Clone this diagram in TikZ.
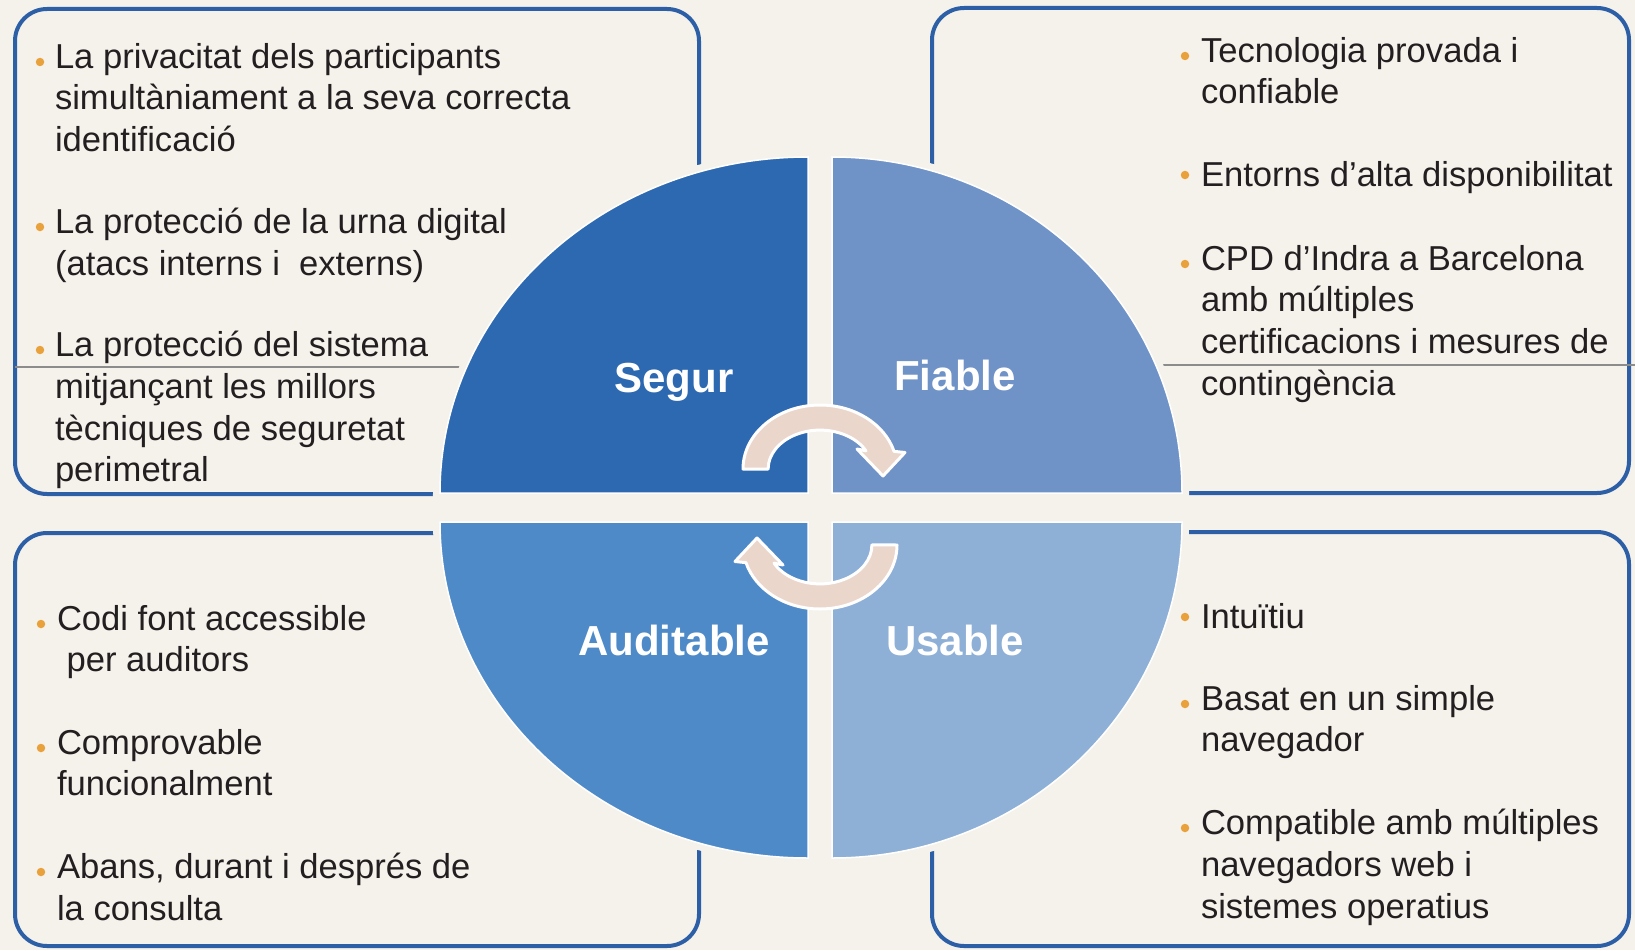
\documentclass[tikz,border=0pt]{standalone}
\usepackage{fontspec}
\setmainfont{Liberation Sans}
\definecolor{bg}{HTML}{F5F2EC}
\definecolor{boxc}{HTML}{2D5FA6}
\definecolor{qsegur}{HTML}{2D69B1}
\definecolor{qfiable}{HTML}{6F92C7}
\definecolor{qaudit}{HTML}{4F8AC8}
\definecolor{qusable}{HTML}{8EAFD6}
\definecolor{txt}{HTML}{231F20}
\definecolor{bulc}{HTML}{E9A23B}
\definecolor{arrc}{HTML}{EBD6CC}
\definecolor{sepc}{HTML}{8C8C8C}
\begin{document}
\begin{tikzpicture}[x=1pt,y=1pt,
  boxline/.style={draw=boxc, line width=4pt, rounded corners=32pt},
  halo/.style={draw=bg, line width=14pt},
  quad/.style={draw=white, line width=1.5pt},
  lbl/.style={anchor=base, text=white, inner sep=0pt, font=\fontsize{42}{50}\selectfont\bfseries},
  item/.style={anchor=north west, inner sep=0pt, outer sep=0pt, align=left, text=txt,
    font=\fontsize{34.6}{41.8}\selectfont, execute at begin node={\rule{0pt}{30pt}}},
  bul/.style={circle, fill=bulc, inner sep=0pt, minimum size=8.5pt},
  rot/.style={fill=arrc, draw=white, line width=3pt, line join=round},
  sep/.style={draw=sepc, line width=1.2pt}
]
\useasboundingbox (0,0) rectangle (1635,-950);
\fill[bg] (0,0) rectangle (1635,-950);

% boxes
\draw[boxline] (15,-9) rectangle (699,-494);
\draw[boxline] (932,-8) rectangle (1629,-493);
\draw[boxline] (15,-533) rectangle (699,-946);
\draw[boxline] (932,-532) rectangle (1629,-946);

% thin separators
\draw[sep] (15,-367) -- (470,-367);
\draw[sep] (1150,-365) -- (1635,-365);

% halos
\path[halo] (808,-493) -- (440,-493) arc[start angle=180, end angle=90, x radius=368, y radius=336] -- cycle;
\path[halo] (832,-493) -- (832,-157) arc[start angle=90, end angle=0, x radius=350, y radius=336] -- cycle;
\path[halo] (808,-522) -- (440,-522) arc[start angle=180, end angle=270, x radius=368, y radius=336] -- cycle;
\path[halo] (832,-522) -- (1182,-522) arc[start angle=0, end angle=-90, x radius=350, y radius=336] -- cycle;

% quadrants
\path[quad, fill=qsegur] (808,-493) -- (440,-493) arc[start angle=180, end angle=90, x radius=368, y radius=336] -- cycle;
\path[quad, fill=qfiable] (832,-493) -- (832,-157) arc[start angle=90, end angle=0, x radius=350, y radius=336] -- cycle;
\path[quad, fill=qaudit] (808,-522) -- (440,-522) arc[start angle=180, end angle=270, x radius=368, y radius=336] -- cycle;
\path[quad, fill=qusable] (832,-522) -- (1182,-522) arc[start angle=0, end angle=-90, x radius=350, y radius=336] -- cycle;

% cycle arrows
\begin{scope}[shift={(820,-469)}]
\path[rot] (-77,0) arc[start angle=180, end angle=16, x radius=77, y radius=64] -- (85,16.5) -- (63,-7) -- (37,20) -- (46,18.2) arc[start angle=28, end angle=180, x radius=52, y radius=39] -- cycle;
\end{scope}
\begin{scope}[shift={(820,-545)}, rotate=180]
\path[rot] (-77,0) arc[start angle=180, end angle=16, x radius=77, y radius=64] -- (85,16.5) -- (63,-7) -- (37,20) -- (46,18.2) arc[start angle=28, end angle=180, x radius=52, y radius=39] -- cycle;
\end{scope}

% labels
\node[lbl] (segur) at (674,-392) {Segur};
\node[lbl] (fiable) at (955,-390) {Fiable};
\node[lbl] (audit) at (674,-655) {Auditable};
\node[lbl] (usable) at (955,-655) {Usable};

% top-left
\node[bul] (b1) at (40,-62) {};
\node[item] (tl1) at (55,-43) {La privacitat dels participants\\simultàniament a la seva correcta\\identificació};
\node[bul] (b2) at (40,-227) {};
\node[item] (tl2) at (55,-208) {La protecció de la urna digital\\(atacs interns i\ \ externs)};
\node[bul] (b3) at (40,-350) {};
\node[item] (tl3) at (55,-331) {La protecció del sistema\\mitjançant les millors\\tècniques de seguretat\\perimetral};

% top-right
\node[bul] (b4) at (1185,-56) {};
\node[item] (tr1) at (1201,-37) {Tecnologia provada i\\confiable};
\node[bul] (b5) at (1185,-175) {};
\node[item] (tr2) at (1201,-156) {Entorns d’alta disponibilitat};
\node[bul] (b6) at (1185,-264) {};
\node[item] (tr3) at (1201,-245) {CPD d’Indra a Barcelona\\amb múltiples\\certificacions i mesures de\\contingència};

% bottom-left
\node[bul] (b7) at (41,-624) {};
\node[item] (bl1) at (57,-605) {Codi font accessible\\\ per auditors};
\node[bul] (b8) at (41,-748) {};
\node[item] (bl2) at (57,-729) {Comprovable\\funcionalment};
\node[bul] (b9) at (41,-872) {};
\node[item] (bl3) at (57,-853) {Abans, durant i després de\\la consulta};

% bottom-right
\node[bul] (b10) at (1185,-617) {};
\node[item] (br1) at (1201,-598) {Intuïtiu};
\node[bul] (b11) at (1185,-704) {};
\node[item] (br2) at (1201,-685) {Basat en un simple\\navegador};
\node[bul] (b12) at (1185,-828) {};
\node[item] (br3) at (1201,-809) {Compatible amb múltiples\\navegadors web i\\sistemes operatius};
\end{tikzpicture}
\end{document}
